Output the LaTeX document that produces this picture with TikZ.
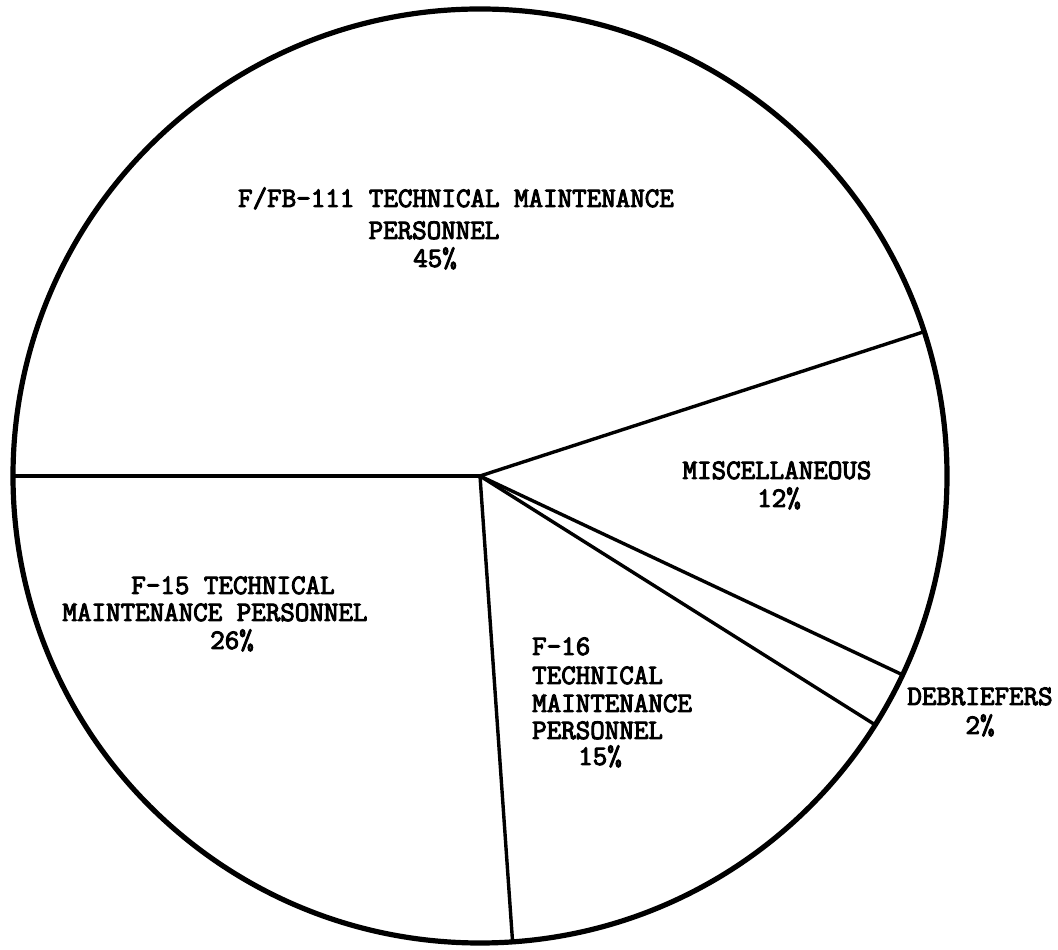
\documentclass[tikz,border=0pt]{standalone}
\usepackage{fontspec}
\usetikzlibrary{calc}
\newfontfamily\twfont[FakeBold=3.5]{Latin Modern Mono}
\tikzset{
  rim/.style={line width=5.2pt},
  radius line/.style={line width=3.4pt, line cap=round},
  lbl/.style={font=\twfont\fontsize{28.2}{30}\selectfont, inner sep=0pt, anchor=base},
  lblw/.style={lbl, anchor=base west}
}
\begin{document}
\begin{tikzpicture}[x=1pt,y=1pt]
\useasboundingbox (0,0) rectangle (1058,950);
\coordinate (c) at (480,474);
% outer circle
\draw[rim] (c) circle[radius=467pt];
% slice boundaries
\coordinate (p1) at ($(c)+(180:467pt)$);
\coordinate (p2) at ($(c)+(18:467pt)$);
\coordinate (p3) at ($(c)+(-25.2:467pt)$);
\coordinate (p4) at ($(c)+(-32.2:467pt)$);
\coordinate (p5) at ($(c)+(-86:467pt)$);
\draw[radius line] (c) -- (p1);
\draw[radius line] (c) -- (p2);
\draw[radius line] (c) -- (p3);
\draw[radius line] (c) -- (p4);
\draw[radius line] (c) -- (p5);
% labels
\node[lbl] (fb1) at (456,743) {F/FB-111 TECHNICAL MAINTENANCE};
\node[lbl] (fb2) at (434,711) {PERSONNEL};
\node[lbl] (fb3) at (435,683) {45\%};
\node[lbl] (mi1) at (777,471) {MISCELLANEOUS};
\node[lbl] (mi2) at (779,443) {12\%};
\node[lbl] (de1) at (980,245) {DEBRIEFERS};
\node[lbl] (de2) at (980,216) {2\%};
\node[lblw] (f161) at (532,295) {F-16};
\node[lblw] (f162) at (532,266) {TECHNICAL};
\node[lblw] (f163) at (532,238) {MAINTENANCE};
\node[lblw] (f164) at (532,211) {PERSONNEL};
\node[lbl] (f165) at (600,185) {15\%};
\node[lbl] (f151) at (233,356) {F-15 TECHNICAL};
\node[lbl] (f152) at (215,329) {MAINTENANCE PERSONNEL};
\node[lbl] (f153) at (232,301) {26\%};
\end{tikzpicture}
\end{document}
